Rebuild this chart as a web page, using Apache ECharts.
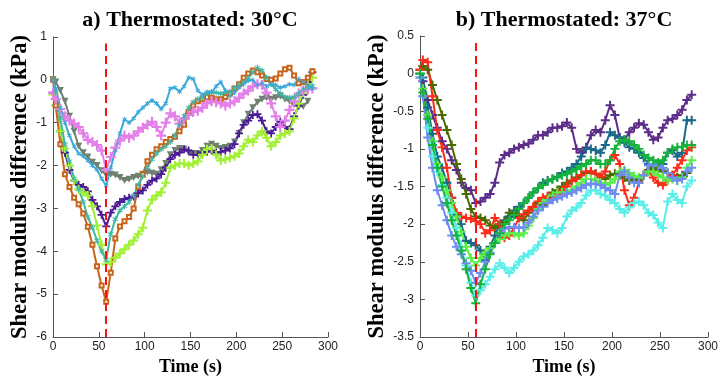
<!DOCTYPE html>
<html><head><meta charset="utf-8">
<script src="https://cdn.jsdelivr.net/npm/echarts@6/dist/echarts.min.js"></script>
<style>html,body{margin:0;padding:0;background:#fff}#c{width:718px;height:378px}</style>
</head><body><div id="c"></div>
<script>
// ---- data ----
const timeS = [0,3,8,13,18,23,28,33,38,43,48,53,58,63,68,73,78,83,88,93,98,103,108,113,118,123,128,133,138,143,148,153,158,163,168,173,178,183,188,193,198,203,208,213,218,223,228,233,238,243,248,253,258,263,268,273,278,283];
const xTicks = [0,50,100,150,200,250,300];
const yTicksA = [-6,-5,-4,-3,-2,-1,0,1];
const yTicksB = [-3.5,-3,-2.5,-2,-1.5,-1,-0.5,0,0.5];
const stopTime = [58, 58];
const stopTopA = 0.85, stopTopB = 0.42;

// panel a) 30°C
const a_blue = [0,-0.2,-0.65,-1.0,-1.3,-1.55,-1.72,-1.78,-1.88,-2.0,-2.1,-2.3,-2.47,-2.05,-1.65,-1.25,-0.92,-1.0,-0.9,-0.75,-0.65,-0.55,-0.48,-0.55,-0.68,-0.55,-0.2,-0.18,-0.28,-0.15,0.05,0.02,-0.25,-0.35,-0.28,-0.3,-0.15,-0.05,-0.25,-0.38,-0.3,-0.18,-0.1,-0.02,0,-0.12,-0.08,-0.15,-0.1,-0.12,-0.18,-0.15,-0.1,-0.12,0.02,-0.05,-0.12,-0.2];
const a_violet = [-0.3,-0.45,-0.68,-0.85,-0.95,-1.02,-1.1,-1.25,-1.4,-1.45,-1.52,-1.65,-2.1,-1.8,-1.58,-1.42,-1.3,-1.35,-1.3,-1.2,-1.12,-1.05,-0.98,-1.1,-1.3,-1.0,-0.78,-0.85,-1.02,-0.9,-0.82,-0.75,-0.72,-0.65,-0.55,-0.5,-0.52,-0.55,-0.6,-0.55,-0.5,-0.42,-0.32,-0.25,-0.15,-0.1,-0.12,-0.3,-0.55,-0.85,-1.1,-0.95,-0.7,-0.5,-0.32,-0.25,-0.22,-0.2];
const a_gray = [0,-0.05,-0.25,-0.5,-0.85,-1.2,-1.55,-1.7,-1.8,-1.92,-2.0,-2.12,-2.22,-2.2,-2.22,-2.28,-2.35,-2.32,-2.28,-2.25,-2.2,-2.15,-2.18,-2.2,-2.1,-1.95,-1.75,-1.65,-1.6,-1.62,-1.7,-1.72,-1.72,-1.65,-1.55,-1.5,-1.55,-1.6,-1.58,-1.55,-1.45,-1.25,-1.0,-0.8,-0.65,-0.52,-0.45,-0.42,-0.45,-0.42,-0.38,-0.45,-0.5,-0.58,-0.62,-0.62,-0.5,null];
const a_indigo = [-0.3,-0.6,-1.2,-1.7,-2.1,-2.35,-2.45,-2.5,-2.6,-2.8,-2.95,-3.15,-3.42,-3.1,-2.95,-2.85,-2.78,-2.75,-2.72,-2.65,-2.58,-2.45,-2.35,-2.3,-2.2,-2.05,-1.85,-1.75,-1.7,-1.62,-1.65,-1.75,-1.75,-1.7,-1.68,-1.65,-1.7,-1.68,-1.65,-1.6,-1.5,-1.25,-1.05,-0.95,-0.82,-0.8,-0.95,-1.2,-1.25,-1.1,-0.98,-1.1,-1.15,-0.85,-0.6,-0.35,-0.05,0.18];
const a_orange = [0,-0.6,-1.5,-2.2,-2.5,-2.75,-2.9,-3.12,-3.43,-3.85,-4.35,-4.8,-5.18,-4.5,-3.7,-3.42,-3.3,-3.2,-3.0,-2.5,-2.2,-1.9,-1.75,-1.62,-1.55,-1.45,-1.38,-1.33,-1.2,-1.05,-0.75,-0.6,-0.5,-0.45,-0.4,-0.42,-0.45,-0.45,-0.4,-0.32,-0.2,-0.1,0.05,0.15,0.22,0.18,0.1,0.02,0,0.03,0.15,0.25,0.28,0.1,-0.08,-0.05,0.05,0.2];
const a_teal = [0,-0.3,-0.9,-1.5,-1.9,-2.3,-2.55,-2.85,-3.2,-3.45,-3.75,-4.0,-4.2,-3.6,-3.25,-3.05,-2.95,-2.85,-2.7,-2.45,-2.25,-2.05,-1.85,-1.72,-1.62,-1.55,-1.45,-1.3,-1.05,-0.85,-0.65,-0.52,-0.45,-0.4,-0.32,-0.28,-0.3,-0.32,-0.3,-0.28,-0.2,-0.12,-0.05,0.05,0.18,0.28,0.22,0.05,-0.1,-0.22,-0.32,-0.4,-0.42,-0.4,-0.32,-0.22,-0.18,-0.15];
const a_lime = [-0.35,-0.6,-1.2,-1.6,-2.0,-2.35,-2.55,-2.62,-2.7,-2.95,-3.4,-3.85,-4.3,-4.25,-4.15,-4.05,-3.95,-3.85,-3.75,-3.6,-3.45,-3.05,-2.8,-2.7,-2.62,-2.4,-2.05,-2.0,-1.95,-1.95,-2.0,-1.95,-1.9,-1.75,-1.62,-1.6,-1.75,-1.88,-1.85,-1.82,-1.78,-1.72,-1.55,-1.4,-1.45,-1.3,-1.2,-1.35,-1.55,-1.45,-1.3,-1.25,-1.2,-0.9,-0.55,-0.3,-0.1,0.05];

// panel b) 37°C
const b_purple = [0,-0.1,-0.35,-0.55,-0.72,-0.9,-1.0,-1.15,-1.28,-1.45,-1.52,-1.55,-1.72,-1.7,-1.65,-1.6,-1.45,-1.18,-1.08,-1.05,-1.0,-0.98,-0.95,-0.93,-0.88,-0.82,-0.82,-0.78,-0.72,-0.72,-0.7,-0.65,-0.72,-1.0,-1.05,-0.98,-0.82,-0.75,-0.78,-0.62,-0.42,-0.55,-0.85,-0.88,-0.78,-0.72,-0.66,-0.68,-0.78,-0.88,-0.85,-0.72,-0.62,-0.6,-0.55,-0.48,-0.35,-0.28];
const b_darkteal = [0,-0.05,-0.45,-0.8,-1.1,-1.25,-1.45,-1.65,-1.88,-2.0,-2.22,-2.25,-2.28,-2.35,-2.48,-2.3,-2.15,-2.0,-1.95,-1.9,-1.82,-1.77,-1.72,-1.65,-1.58,-1.52,-1.45,-1.42,-1.4,-1.37,-1.32,-1.3,-1.25,-1.2,-1.1,-1.0,-1.0,-1.02,-1.05,-0.95,-0.78,-0.82,-0.85,-0.92,-0.98,-1.0,-1.05,-1.12,-1.2,-1.25,-1.28,-1.2,-1.05,-1.02,-1.1,-1.05,-0.62,-0.62];
const b_red = [0.05,0.18,0.15,-0.3,-0.75,-0.98,-1.25,-1.65,-1.85,-1.9,-1.92,-1.93,-1.96,-2.0,-2.12,-2.08,-1.92,-2.0,-2.18,-2.15,-2.05,-1.92,-1.87,-1.82,-1.77,-1.7,-1.65,-1.63,-1.67,-1.6,-1.55,-1.5,-1.43,-1.4,-1.35,-1.3,-1.3,-1.33,-1.37,-1.3,-1.15,-1.08,-1.2,-1.55,-1.75,-1.65,-1.45,-1.35,-1.3,-1.38,-1.45,-1.48,-1.42,-1.35,-1.25,-1.15,-1.02,-0.98];
const b_olive = [0.05,0.1,0.05,-0.15,-0.35,-0.55,-0.75,-0.95,-1.2,-1.4,-1.6,-1.8,-1.9,-1.92,-1.95,-2.02,-2.05,-2.02,-1.97,-1.85,-1.85,-1.9,-1.95,-1.85,-1.78,-1.72,-1.75,-1.65,-1.58,-1.55,-1.5,-1.45,-1.42,-1.38,-1.35,-1.32,-1.3,-1.33,-1.38,-1.4,-1.35,-1.33,-1.35,-1.38,-1.42,-1.4,-1.42,-1.35,-1.28,-1.25,-1.28,-1.3,-1.32,-1.35,-1.38,-1.35,-1.32,null];
const b_green = [0,-0.25,-0.6,-0.95,-1.25,-1.5,-1.72,-1.95,-2.15,-2.35,-2.6,-2.85,-3.05,-2.8,-2.6,-2.4,-2.25,-2.12,-2.0,-1.95,-1.88,-1.8,-1.72,-1.65,-1.58,-1.52,-1.48,-1.43,-1.4,-1.38,-1.35,-1.33,-1.3,-1.27,-1.23,-1.2,-1.15,-1.15,-1.2,-1.2,-1.15,-1.0,-0.9,-0.88,-0.9,-0.95,-1.0,-1.08,-1.12,-1.15,-1.18,-1.15,-1.05,-1.0,-0.98,-0.97,-0.95,-0.95];
const b_lightgreen = [0,-0.2,-0.55,-0.9,-1.2,-1.38,-1.55,-1.72,-1.9,-2.1,-2.3,-2.45,-2.55,-2.45,-2.38,-2.32,-2.25,-2.2,-2.15,-2.12,-2.12,-2.15,-2.12,-2.02,-1.92,-1.8,-1.72,-1.68,-1.62,-1.58,-1.58,-1.58,-1.55,-1.5,-1.45,-1.4,-1.4,-1.42,-1.45,-1.48,-1.45,-1.4,-1.3,-1.28,-1.32,-1.36,-1.38,-1.35,-1.3,-1.3,-1.35,-1.38,-1.42,-1.4,-1.42,-1.38,-1.25,-1.15];
const b_cornflower = [-0.05,-0.3,-0.85,-1.25,-1.55,-1.75,-1.95,-2.15,-2.3,-2.4,-2.52,-2.62,-2.78,-2.65,-2.5,-2.38,-2.25,-2.12,-2.06,-2.04,-2.04,-2.05,-2.04,-1.98,-1.9,-1.82,-1.77,-1.72,-1.68,-1.66,-1.63,-1.6,-1.58,-1.55,-1.52,-1.48,-1.46,-1.47,-1.48,-1.52,-1.55,-1.6,-1.35,-1.3,-1.38,-1.45,-1.45,-1.35,-1.22,-1.2,-1.22,-1.25,-1.32,-1.38,-1.42,-1.4,-1.3,-1.25];
const b_cyan = [-0.05,-0.3,-0.72,-1.1,-1.3,-1.48,-1.65,-1.85,-2.05,-2.3,-2.55,-2.78,-2.95,-2.88,-2.8,-2.7,-2.6,-2.52,-2.58,-2.65,-2.58,-2.5,-2.43,-2.4,-2.35,-2.28,-2.18,-2.05,-2.08,-2.12,-2.05,-1.9,-1.82,-1.78,-1.72,-1.62,-1.55,-1.55,-1.6,-1.62,-1.68,-1.72,-1.8,-1.85,-1.78,-1.72,-1.7,-1.75,-1.85,-1.88,-1.98,-2.05,-1.7,-1.6,-1.68,-1.72,-1.5,-1.42];

// ---- chart ----
const PLUS = 'path://M3.9,0H6.1V3.9H10V6.1H6.1V10H3.9V6.1H0V3.9H3.9Z';
const STAR = 'path://M4.2,0H5.8V3.2L8.6,1.6L9.4,3L6.6,4.6V5.4L9.4,7L8.6,8.4L5.8,6.8V10H4.2V6.8L1.4,8.4L0.6,7L3.4,5.4V4.6L0.6,3L1.4,1.6L4.2,3.2Z';
function pts(v){ return timeS.map((t,i)=>[t, v[i]]).filter(p=>p[1]!==null); }
function ser(vals, color, symbol, size, gi, extra){
  return Object.assign({
    type:'line', xAxisIndex:gi, yAxisIndex:gi, data:pts(vals),
    symbol:symbol, symbolSize:size, showSymbol:true,
    lineStyle:{color:color, width:2}, itemStyle:{color:color, borderWidth:0},
    animation:false, silent:true
  }, extra||{});
}
function stopLine(top, bottom){
  return {symbol:'none', silent:true, label:{show:false},
    lineStyle:{color:'#FF1010', type:[8,5], width:2},
    data:[[{coord:[stopTime[0], bottom]},{coord:[stopTime[1], top]}]]};
}
const serif = '"Liberation Serif","Times New Roman",serif';
const sans = '"Liberation Sans",Arial,sans-serif';
function xAx(gi){
  return {gridIndex:gi, type:'value', min:xTicks[0], max:xTicks[xTicks.length-1], interval:50,
    name:'Time (s)', nameLocation:'middle', nameGap:19,
    nameTextStyle:{fontFamily:serif, fontWeight:'bold', fontSize:18, color:'#000'},
    axisLine:{onZero:false, lineStyle:{color:'#555', width:1}}, axisTick:{inside:true, length:5, lineStyle:{color:'#555'}},
    axisLabel:{color:'#222', fontFamily:sans, fontSize:12, margin:4}, splitLine:{show:false}};
}
function yAx(gi, ticks, step, gap){
  return {gridIndex:gi, type:'value', min:ticks[0], max:ticks[ticks.length-1], interval:step,
    name:'Shear modulus difference (kPa)', nameLocation:'middle', nameGap:gap, nameRotate:90,
    nameTextStyle:{fontFamily:serif, fontWeight:'bold', fontSize:22.5, color:'#000'},
    axisLine:{show:true, onZero:false, lineStyle:{color:'#555', width:1}}, axisTick:{show:true, inside:true, length:5, lineStyle:{color:'#555'}},
    axisLabel:{color:'#222', fontFamily:sans, fontSize:12, margin:6}, splitLine:{show:false}};
}
const chart = echarts.init(document.getElementById('c'), null, {renderer:'canvas'});
chart.setOption({
  backgroundColor:'#fff', animation:false,
  title:[
    {text:'a) Thermostated: 30°C', left:185, top:4, textAlign:'center', textStyle:{fontFamily:serif, fontWeight:'bold', fontSize:22, color:'#000'}},
    {text:'b) Thermostated: 37°C', left:559, top:4, textAlign:'center', textStyle:{fontFamily:serif, fontWeight:'bold', fontSize:22, color:'#000'}}
  ],
  grid:[
    {left:53, right:390, top:37, bottom:41, containLabel:false, outerBoundsMode:'none'},
    {left:420, right:10, top:36, bottom:41, containLabel:false, outerBoundsMode:'none'}
  ],
  xAxis:[xAx(0), xAx(1)],
  yAxis:[yAx(0, yTicksA, 1, 21), yAx(1, yTicksB, 0.5, 31)],
  series:[
    ser(a_gray, '#6F8070', 'triangle', 7, 0, {symbolRotate:180}),
    ser(a_indigo, '#4B1A96', PLUS, 8, 0),
    ser(a_lime, '#A2F034', PLUS, 9, 0),
    ser(a_orange, '#C8651B', 'emptyRect', 4, 0, {itemStyle:{color:'#C8651B', borderColor:'#C8651B', borderWidth:1.5}}),
    ser(a_violet, '#E47FEA', PLUS, 10, 0),
    ser(a_teal, '#40B8A8', STAR, 6, 0),
    ser(a_blue, '#3AA8D8', STAR, 5, 0, {markLine:stopLine(stopTopA, yTicksA[0])}),
    ser(b_purple, '#5C2D88', PLUS, 9, 1),
    ser(b_darkteal, '#1A6888', PLUS, 9, 1),
    ser(b_olive, '#4A6A00', PLUS, 9, 1),
    ser(b_red, '#FF2A18', PLUS, 9, 1),
    ser(b_cyan, '#58EEEA', PLUS, 9, 1),
    ser(b_lightgreen, '#58F048', PLUS, 9, 1),
    ser(b_cornflower, '#6E8CF2', PLUS, 9, 1),
    ser(b_green, '#14B43C', PLUS, 9, 1, {markLine:stopLine(stopTopB, yTicksB[0])})
  ]
});
</script></body></html>
